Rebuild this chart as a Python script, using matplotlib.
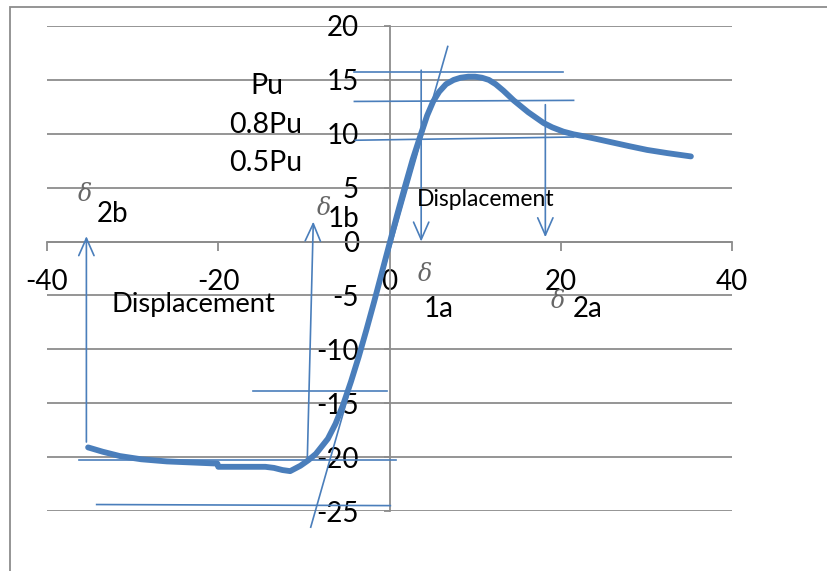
import matplotlib
matplotlib.use('Agg')
import matplotlib.pyplot as plt
from matplotlib.patches import Rectangle

plt.rcParams['font.family'] = ['Lato', 'DejaVu Sans']

# main load-displacement curve
curve_x = [-35.2, -33.5, -31.5, -29.0, -26.0, -23.0, -20.1, -20.0, -17.0, -15.5,
           -14.5, -13.5, -12.5, -11.6, -10.4, -9.5, -8.6, -7.9, -7.2, -6.3,
           -5.4, -4.5, -3.6, -2.7, -1.8, -0.9, 0.0, 0.9, 1.8, 2.7,
           3.6, 4.4, 5.1, 5.8, 6.6, 7.5, 8.3, 9.2, 10.0, 10.8, 11.6, 12.4,
           13.3, 14.5, 16.2, 18.0, 19.0, 20.3, 21.5, 22.5, 24.0, 26.0, 28.0,
           30.1, 32.5, 35.2]
curve_y = [-19.1, -19.5, -19.9, -20.2, -20.4, -20.5, -20.6, -20.9, -20.9, -20.9,
           -20.9, -21.0, -21.2, -21.3, -20.8, -20.3, -19.7, -19.0, -18.3, -16.9,
           -15.1, -13.0, -10.7, -8.2, -5.6, -2.9, -0.2, 2.5, 5.1, 7.6,
           9.8, 11.7, 13.0, 13.9, 14.6, 15.0, 15.2, 15.3, 15.3, 15.2, 15.0, 14.6,
           14.0, 13.1, 12.0, 11.0, 10.6, 10.2, 9.95, 9.8, 9.55, 9.2, 8.85,
           8.5, 8.2, 7.9]

# tangent line
tangent_x = [-9.2, 6.8]
tangent_y = [-26.5, 18.1]

# horizontal reference lines: (x0, x1, y0, y1)
hlines = [(-4.2, 20.3, 15.7, 15.7),
          (-4.1, 21.5, 13.0, 13.1),
          (-4.0, 21.5, 9.4, 9.7),
          (-16.0, -0.35, -13.9, -13.9),
          (-36.3, 0.8, -20.3, -20.3),
          (-34.2, 0.1, -24.4, -24.5)]

# vertical arrows: (x_tail, y_tail, x_head, y_head)
arrows = [(3.7, 15.9, 3.7, 0.0),
          (18.2, 12.7, 18.2, 0.4),
          (-35.4, -18.6, -35.4, 0.5),
          (-9.6, -20.2, -8.9, 1.85)]

x_ticks = [-40, -20, 0, 20, 40]
y_ticks = [-25, -20, -15, -10, -5, 0, 5, 10, 15, 20]

blue = '#4a7ebb'
grid_c = '#8c8c8c'

fig = plt.figure(figsize=(8.27, 5.71), dpi=100)
fig.patches.append(Rectangle((10 / 827, -0.1), 1.2, 1 - 7 / 571 + 0.1,
                             transform=fig.transFigure, fill=False,
                             edgecolor=grid_c, lw=1.3))

ax = fig.add_axes([47 / 827, 60 / 571, 685 / 827, 485 / 571])
ax.set_xlim(-40, 40)
ax.set_ylim(-25, 20)

for s in ['top', 'right']:
    ax.spines[s].set_visible(False)
ax.spines['left'].set_position(('data', 0))
ax.spines['bottom'].set_position(('data', 0))
ax.spines['left'].set_color(grid_c)
ax.spines['bottom'].set_color(grid_c)
ax.spines['left'].set_linewidth(1.3)
ax.spines['bottom'].set_linewidth(1.3)

ax.set_xticks(x_ticks)
ax.set_yticks(y_ticks)
ax.set_xticklabels([str(v) for v in x_ticks])
ax.set_yticklabels([str(v) for v in y_ticks])
ax.tick_params(axis='x', direction='out', length=6.5, width=1.3, color=grid_c,
               labelsize=20, pad=13)
ax.tick_params(axis='y', direction='out', length=4, width=1.3, color=grid_c,
               labelsize=20, pad=18)
ax.yaxis.grid(True, color=grid_c, lw=1.3)
ax.set_axisbelow(True)

ax.plot(curve_x, curve_y, color=blue, lw=4.2, solid_capstyle='round',
        solid_joinstyle='round', clip_on=False, zorder=4)
ax.plot(tangent_x, tangent_y, color=blue, lw=1.2, clip_on=False, zorder=3)
for x0, x1, y0, y1 in hlines:
    ax.plot([x0, x1], [y0, y1], color=blue, lw=1.2, clip_on=False, zorder=3)
for xt, yt, xh, yh in arrows:
    ax.annotate('', xy=(xh, yh), xytext=(xt, yt),
                arrowprops=dict(arrowstyle='->,head_length=1.25,head_width=0.55',
                                color=blue, lw=1.2, mutation_scale=10,
                                shrinkA=0, shrinkB=0), zorder=3)

# labels
ax.text(-14.3, 14.4, 'Pu', fontsize=20.5, ha='center', va='center')
ax.text(-14.5, 10.8, '0.8Pu', fontsize=20.5, ha='center', va='center')
ax.text(-14.5, 7.3, '0.5Pu', fontsize=20.5, ha='center', va='center')
ax.text(-22.9, -5.8, 'Displacement', fontsize=19.7, ha='center', va='center')
ax.text(11.2, 3.9, 'Displacement', fontsize=16.5, ha='center', va='center')

delta_font = dict(family='DejaVu Serif', style='italic', color='#666666',
                  fontsize=17, ha='center', va='center')
ax.text(-35.5, 4.4, 'δ', **delta_font)
ax.text(-32.4, 2.6, '2b', fontsize=20, ha='center', va='center')
ax.text(-7.7, 3.1, 'δ', **delta_font)
ax.text(-5.4, 2.1, '1b', fontsize=20, ha='center', va='center')
ax.text(4.2, -3.1, 'δ', **delta_font)
ax.text(5.7, -6.3, '1a', fontsize=20, ha='center', va='center')
ax.text(19.7, -5.6, 'δ', **delta_font)
ax.text(23.1, -6.3, '2a', fontsize=20, ha='center', va='center')

plt.savefig('out.png', dpi=100)
